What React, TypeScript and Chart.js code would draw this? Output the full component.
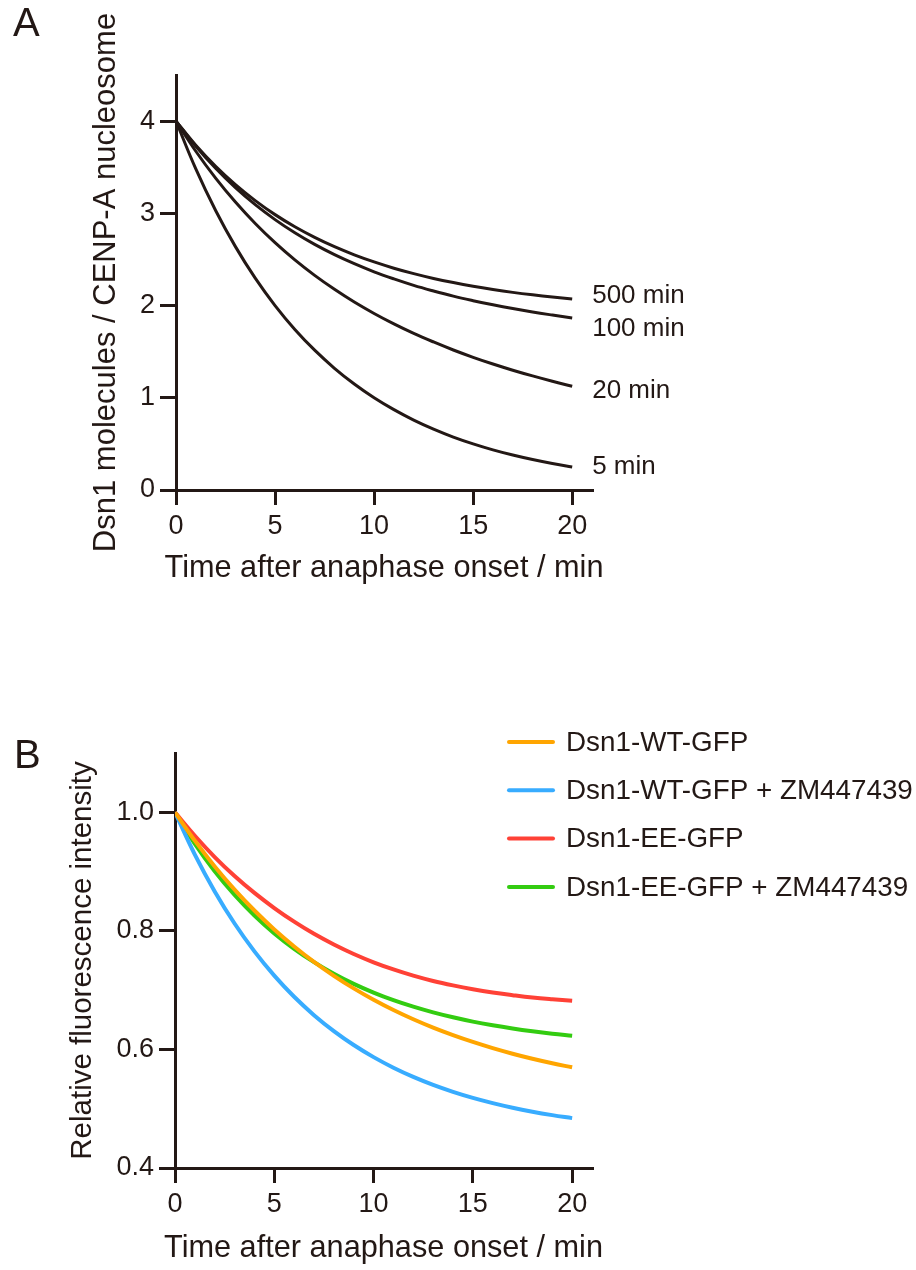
import React, { useEffect, useRef } from "react";
import { Chart, registerables } from "chart.js";

Chart.register(...registerables);

// ---------- data ----------
const timeMin = [0, 1, 2, 3, 4, 5, 6, 7, 8, 9, 10, 11, 12, 13, 14, 15, 16, 17, 18, 19, 20];
const xTicks = [0, 5, 10, 15, 20];
const yTicksA = [0, 1, 2, 3, 4];
const yTicksB = [0.4, 0.6, 0.8, 1.0];
const xTitle = "Time after anaphase onset / min";

const halfLifeLabels = ["500 min", "100 min", "20 min", "5 min"];
const dsn1Half500 = [4.0, 3.738, 3.51, 3.311, 3.138, 2.986, 2.854, 2.739, 2.638, 2.55, 2.473, 2.405, 2.346, 2.294, 2.249, 2.209, 2.174, 2.143, 2.116, 2.092, 2.07];
const dsn1Half100 = [4.0, 3.727, 3.488, 3.278, 3.094, 2.932, 2.789, 2.663, 2.552, 2.454, 2.366, 2.289, 2.219, 2.158, 2.102, 2.053, 2.008, 1.967, 1.93, 1.897, 1.866];
const dsn1Half20 = [4.0, 3.673, 3.382, 3.122, 2.89, 2.682, 2.495, 2.327, 2.176, 2.038, 1.914, 1.801, 1.698, 1.605, 1.518, 1.439, 1.366, 1.299, 1.237, 1.179, 1.125];
const dsn1Half5 = [4.0, 3.482, 3.031, 2.639, 2.297, 2.0, 1.741, 1.516, 1.32, 1.149, 1.0, 0.871, 0.758, 0.66, 0.574, 0.5, 0.435, 0.379, 0.33, 0.287, 0.25];

const seriesNamesB = ["Dsn1-WT-GFP", "Dsn1-WT-GFP + ZM447439", "Dsn1-EE-GFP", "Dsn1-EE-GFP + ZM447439"];
const wtGfp = [1.0, 0.9521, 0.9087, 0.8696, 0.8343, 0.8024, 0.7737, 0.7476, 0.7242, 0.703, 0.6838, 0.6665, 0.6509, 0.6368, 0.6241, 0.6126, 0.6022, 0.5928, 0.5843, 0.5767, 0.5698];
const wtGfpZm = [1.0, 0.9286, 0.8665, 0.8124, 0.7654, 0.7245, 0.6888, 0.6578, 0.6309, 0.6074, 0.587, 0.5692, 0.5537, 0.5402, 0.5285, 0.5183, 0.5095, 0.5017, 0.495, 0.4892, 0.4841];
const eeGfp = [1.0, 0.9605, 0.9245, 0.8925, 0.864, 0.8385, 0.8155, 0.795, 0.777, 0.761, 0.747, 0.735, 0.7245, 0.7155, 0.708, 0.7015, 0.696, 0.6915, 0.6875, 0.6845, 0.682];
const eeGfpZm = [1.0, 0.9468, 0.9006, 0.8606, 0.8259, 0.7958, 0.7698, 0.7472, 0.7276, 0.7106, 0.6959, 0.6831, 0.6721, 0.6625, 0.6542, 0.6469, 0.6407, 0.6353, 0.6306, 0.6265, 0.623];

// ---------- styles ----------
const INK = "#231815";
const FONT = "'Liberation Sans', Arial, Helvetica, sans-serif";
const colorsB = ["#FFA500", "#38ACFF", "#FF4136", "#33CC11"];
const curveLabelOffsetPx = [-3, 11, 5, 0];
const curveLabelGap = 20;
const legendB = { x0: 334, x1: 378, tx: 391, top: -11, gap: 48.3 };

const toXY = (vals: number[]) => vals.map((v, i) => ({ x: timeMin[i], y: v }));

function makeScales(opts: {
  yMin: number; yMax: number; yTicks: number[]; yWidth: number; yTitle: string; yTitleSize: number; xHeight: number; yFmt: (v: number) => string;
}) {
  return {
    x: {
      type: "linear",
      min: 0,
      max: 21,
      afterBuildTicks: (s: any) => { s.ticks = xTicks.map((v) => ({ value: v })); },
      afterFit: (s: any) => { s.height = opts.xHeight; },
      grid: { display: true, drawOnChartArea: false, drawTicks: true, tickLength: 15, lineWidth: 3, tickWidth: 3, tickColor: INK, color: INK },
      border: { display: true, width: 3, color: INK },
      ticks: { color: INK, font: { family: FONT, size: 27 }, padding: 5, maxRotation: 0, autoSkip: false, callback: (v: any) => String(v) },
      title: { display: false },
    },
    y: {
      type: "linear",
      min: opts.yMin,
      max: opts.yMax,
      afterBuildTicks: (s: any) => { s.ticks = opts.yTicks.map((v) => ({ value: v })); },
      afterFit: (s: any) => { s.width = opts.yWidth; },
      grid: { display: true, drawOnChartArea: false, drawTicks: true, tickLength: 16, lineWidth: 3, tickWidth: 3, tickColor: INK, color: INK },
      border: { display: true, width: 3, color: INK },
      ticks: { color: INK, font: { family: FONT, size: 27 }, padding: 5, autoSkip: false, callback: (v: any) => opts.yFmt(Number(v)) },
      title: { display: true, text: opts.yTitle, color: INK, font: { family: FONT, size: opts.yTitleSize }, padding: 0 },
    },
  };
}

// x-axis title drawn without Chart.js's maxWidth squeeze
function makeXTitlePlugin(offset: number) {
  return {
    id: "xTitleFree",
    afterDraw(chart: any) {
      const ctx = chart.ctx;
      const a = chart.chartArea;
      ctx.save();
      ctx.fillStyle = INK;
      ctx.font = `30.7px ${FONT}`;
      ctx.textAlign = "center";
      ctx.textBaseline = "middle";
      ctx.fillText(xTitle, (a.left + a.right) / 2, a.bottom + offset);
      ctx.restore();
    },
  };
}

const curveLabelPlugin = {
  id: "curveLabels",
  afterDatasetsDraw(chart: any) {
    const ctx = chart.ctx;
    ctx.save();
    ctx.fillStyle = INK;
    ctx.font = `26px ${FONT}`;
    ctx.textAlign = "left";
    ctx.textBaseline = "middle";
    chart.data.datasets.forEach((ds: any, i: number) => {
      const meta = chart.getDatasetMeta(i);
      const last = meta.data[meta.data.length - 1];
      ctx.fillText(ds.label, last.x + curveLabelGap, last.y + curveLabelOffsetPx[i]);
    });
    ctx.restore();
  },
};

const legendPlugin = {
  id: "sideLegend",
  afterDraw(chart: any) {
    const ctx = chart.ctx;
    const a = chart.chartArea;
    ctx.save();
    chart.data.datasets.forEach((ds: any, i: number) => {
      const y = a.top + legendB.top + i * legendB.gap;
      ctx.strokeStyle = ds.borderColor;
      ctx.lineWidth = 4;
      ctx.lineCap = "round";
      ctx.beginPath();
      ctx.moveTo(a.left + legendB.x0, y);
      ctx.lineTo(a.left + legendB.x1, y);
      ctx.stroke();
      ctx.fillStyle = INK;
      ctx.font = `27.8px ${FONT}`;
      ctx.textAlign = "left";
      ctx.textBaseline = "middle";
      ctx.fillText(ds.label, a.left + legendB.tx, y + 1);
    });
    ctx.restore();
  },
};

function ChartA() {
  const ref = useRef<HTMLCanvasElement | null>(null);
  useEffect(() => {
    if (!ref.current) return;
    const series = [dsn1Half500, dsn1Half100, dsn1Half20, dsn1Half5];
    const chart = new Chart(ref.current, {
      type: "line",
      data: {
        datasets: series.map((vals, i) => ({
          label: halfLifeLabels[i],
          data: toXY(vals),
          borderColor: INK,
          borderWidth: 3,
          pointRadius: 0,
          fill: false,
          tension: 0.4,
        })),
      },
      options: {
        responsive: false,
        animation: false,
        events: [],
        layout: { padding: { left: 88, right: 324, top: 75, bottom: 31 }, autoPadding: false },
        plugins: { legend: { display: false }, tooltip: { enabled: false } },
        scales: makeScales({
          yMin: 0, yMax: 4.5, yTicks: yTicksA, yWidth: 88, xHeight: 99, yTitleSize: 31,
          yTitle: "Dsn1 molecules / CENP-A nucleosome", yFmt: (v) => String(v),
        }) as any,
      } as any,
      plugins: [curveLabelPlugin, makeXTitlePlugin(79)],
    } as any);
    return () => chart.destroy();
  }, []);
  return <canvas ref={ref} width={916} height={620} style={{ position: "absolute", left: 0, top: 0, width: 916, height: 620 }} />;
}

function ChartB() {
  const ref = useRef<HTMLCanvasElement | null>(null);
  useEffect(() => {
    if (!ref.current) return;
    const series = [wtGfp, wtGfpZm, eeGfp, eeGfpZm];
    const chart = new Chart(ref.current, {
      type: "line",
      data: {
        datasets: series.map((vals, i) => ({
          label: seriesNamesB[i],
          data: toXY(vals),
          borderColor: colorsB[i],
          borderWidth: 4,
          pointRadius: 0,
          fill: false,
          tension: 0.4,
        })),
      },
      options: {
        responsive: false,
        animation: false,
        events: [],
        layout: { padding: { left: 65, right: 324, top: 133, bottom: 1 }, autoPadding: false },
        plugins: { legend: { display: false }, tooltip: { enabled: false } },
        scales: makeScales({
          yMin: 0.4, yMax: 1.1, yTicks: yTicksB, yWidth: 110, xHeight: 101, yTitleSize: 29.5,
          yTitle: "Relative fluorescence intensity", yFmt: (v) => v.toFixed(1),
        }) as any,
      } as any,
      plugins: [legendPlugin, makeXTitlePlugin(81)],
    } as any);
    return () => chart.destroy();
  }, []);
  return <canvas ref={ref} width={916} height={650} style={{ position: "absolute", left: 0, top: 620, width: 916, height: 650 }} />;
}

const panelStyle: React.CSSProperties = {
  position: "absolute",
  fontFamily: FONT,
  fontSize: 40,
  lineHeight: "40px",
  color: INK,
  margin: 0,
};

export default function App() {
  return (
    <div style={{ position: "absolute", left: 0, top: 0, width: 916, height: 1270, background: "#ffffff", overflow: "hidden" }}>
      <ChartA />
      <ChartB />
      <div style={{ ...panelStyle, left: 13, top: 2 }}>A</div>
      <div style={{ ...panelStyle, left: 14, top: 734 }}>B</div>
    </div>
  );
}
